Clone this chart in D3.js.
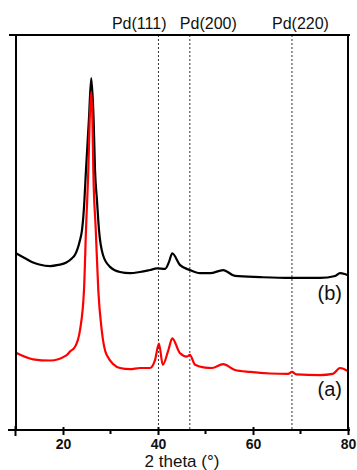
<html>
<head>
<meta charset="utf-8">
<style>
  body { margin: 0; background: #fff; }
  text { font-family: Arial, "Liberation Sans", sans-serif; }
</style>
</head>
<body>
<script src="https://cdn.jsdelivr.net/npm/d3@7"></script>
<script>
// 曲线 (b) 黑色
var bTheta = [10, 12, 13.7, 15, 17.3, 19.0, 20.7, 21.9, 22.5, 23.58, 24.0, 24.4, 24.84, 25.45, 25.95, 26.45, 26.74, 27.15, 27.58, 28.42, 29.9, 32.0, 34.1, 36.2, 38.3, 39.8, 41.5, 42.3, 43.0, 44.6, 46.7, 48.8, 51.0, 53.7, 56.2, 61.5, 67.8, 74.1, 77.3, 78.3, 79.3, 80];
var bInt   = [44.8, 43.5, 42.4, 41.9, 41.5, 41.8, 42.4, 43.5, 44.3, 48.1, 50.6, 56.0, 65.8, 78.5, 89.1, 78.5, 65.8, 58.2, 50.6, 44.3, 41.3, 40.0, 39.7, 40.0, 40.5, 40.9, 40.8, 42.5, 44.7, 41.8, 40.5, 39.7, 39.7, 40.5, 39.0, 38.7, 38.5, 38.5, 39.0, 39.7, 39.5, 39.2];

// 曲线 (a) 红色
var aTheta = [10, 13.7, 17.3, 20.7, 21.5, 22.5, 23.58, 24.42, 24.84, 25.33, 25.62, 25.95, 26.2, 26.38, 26.9, 27.43, 28.15, 29.2, 32.0, 34.1, 36.2, 38.3, 39.37, 40.2, 41.0, 42.2, 43.0, 44.6, 46.1, 46.7, 47.8, 49.9, 51.4, 53.7, 56.2, 59.4, 63.6, 67.4, 68.2, 69.1, 74.1, 76.8, 78.3, 79.2, 80];
var aInt   = [19.6, 17.9, 17.6, 18.9, 19.9, 21.0, 25.3, 35.4, 50.6, 65.8, 78.5, 85.6, 78.5, 65.8, 50.6, 35.4, 25.3, 19.0, 15.7, 15.4, 15.7, 15.7, 17.7, 21.9, 16.5, 20.3, 23.2, 19.5, 18.6, 19.0, 16.5, 15.8, 15.7, 16.7, 15.2, 14.7, 14.3, 14.2, 14.7, 14.1, 13.9, 14.2, 15.7, 15.4, 14.9];

var majorTicks = [20, 40, 60, 80];
var minorTicks = [10, 30, 50, 70];
var pdPos    = [40.1, 46.7, 68.2];
var pdLabels = ["Pd(111)", "Pd(200)", "Pd(220)"];
var pdLabelX = [30.3, 44.6, 64.0];   // 标签左端位置 (2θ)
var curveNames = ["(b)", "(a)"];
var curveLabelY = [33, 8.5];

var W = 357, H = 470;
var plotL = 16, plotR = 348, plotT = 35, plotB = 430;

var svg = d3.select("body").append("svg").attr("width", W).attr("height", H);

var x = d3.scaleLinear().domain([10, 80]).range([15.5, 348]);
var y = d3.scaleLinear().domain([0, 100]).range([plotB, plotT]);

// 虚线
svg.selectAll("line.pd")
    .data(pdPos)
    .enter()
    .append("line")
    .attr("class", "pd")
    .attr("x1", function(d){ return x(d); })
    .attr("x2", function(d){ return x(d); })
    .attr("y1", plotT)
    .attr("y2", plotB)
    .attr("stroke", "#333")
    .attr("stroke-width", 1)
    .attr("stroke-dasharray", "2,2");

svg.selectAll("text.pd")
    .data(pdLabels)
    .enter()
    .append("text")
    .attr("class", "pd")
    .attr("x", function(d, i){ return x(pdLabelX[i]); })
    .attr("y", 29)
    .attr("font-size", "16px")
    .attr("fill", "#111")
    .text(function(d){ return d; });

// 曲线
var line = d3.line()
    .x(function(d){ return x(d[0]); })
    .y(function(d){ return y(d[1]); })
    .curve(d3.curveMonotoneX);

var series = [
    { pts: d3.zip(bTheta, bInt), color: "#000" },
    { pts: d3.zip(aTheta, aInt), color: "#ff0000" }
];

svg.selectAll("path.curve")
    .data(series)
    .enter()
    .append("path")
    .attr("class", "curve")
    .attr("d", function(d){ return line(d.pts); })
    .attr("fill", "none")
    .attr("stroke", function(d){ return d.color; })
    .attr("stroke-width", 2.2)
    .attr("stroke-linejoin", "round");

svg.selectAll("text.name")
    .data(curveNames)
    .enter()
    .append("text")
    .attr("class", "name")
    .attr("x", 342)
    .attr("y", function(d, i){ return y(curveLabelY[i]); })
    .attr("text-anchor", "end")
    .attr("font-size", "20px")
    .attr("fill", "#111")
    .text(function(d){ return d; });

// 边框
svg.append("line").attr("x1", 9).attr("x2", 350).attr("y1", plotT).attr("y2", plotT)
    .attr("stroke", "#000").attr("stroke-width", 2);
svg.append("line").attr("x1", plotL).attr("x2", plotL).attr("y1", plotT).attr("y2", plotB)
    .attr("stroke", "#000").attr("stroke-width", 2);
svg.append("line").attr("x1", plotR).attr("x2", plotR).attr("y1", plotT).attr("y2", plotB)
    .attr("stroke", "#000").attr("stroke-width", 2);

// x 轴
var xAxis = d3.axisBottom(x)
    .tickValues(majorTicks)
    .tickSizeInner(5)
    .tickSizeOuter(0)
    .tickPadding(4)
    .tickFormat(d3.format("d"));

var gx = svg.append("g")
    .attr("transform", "translate(0," + plotB + ")")
    .call(xAxis);
gx.select(".domain").remove();
gx.selectAll(".tick line").attr("y1", -3).attr("stroke-width", 2);
gx.selectAll(".tick text")
    .attr("font-size", "14px")
    .attr("font-weight", "bold")
    .attr("font-family", "Arial, 'Liberation Sans', sans-serif")
    .attr("fill", "#111");

gx.selectAll("line.minor")
    .data(minorTicks)
    .enter()
    .append("line")
    .attr("class", "minor")
    .attr("x1", function(d){ return x(d); })
    .attr("x2", function(d){ return x(d); })
    .attr("y1", function(d){ return d === 10 ? -4 : 0; })
    .attr("y2", function(d){ return d === 10 ? 6 : 4; })
    .attr("stroke", "#000")
    .attr("stroke-width", 2);

svg.append("line").attr("x1", 8).attr("x2", 350).attr("y1", plotB).attr("y2", plotB)
    .attr("stroke", "#000").attr("stroke-width", 2);

svg.append("text")
    .attr("x", 182)
    .attr("y", 467)
    .attr("text-anchor", "middle")
    .attr("font-size", "17px")
    .attr("fill", "#111")
    .text("2 theta (°)");
</script>
</body>
</html>
